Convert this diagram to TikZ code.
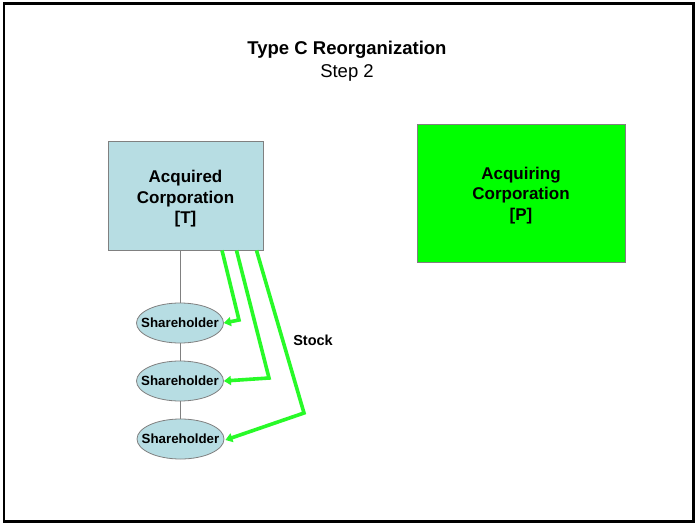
\documentclass[tikz,border=0pt]{standalone}
\usepackage{fontspec}
\setmainfont{Liberation Sans}
\usetikzlibrary{shapes.geometric,arrows.meta}
\definecolor{boxblue}{RGB}{183,221,227}
\definecolor{boxgreen}{RGB}{0,255,0}
\definecolor{arrowgreen}{RGB}{40,250,40}
\definecolor{edgegrey}{RGB}{128,128,128}
\tikzset{
  corpbox/.style={draw=edgegrey, line width=0.8pt, inner sep=0pt},
  corptext/.style={inner sep=0pt, align=center,
    font=\fontsize{17}{20.5}\selectfont\bfseries},
  holder/.style={ellipse, draw=edgegrey, line width=0.8pt, fill=boxblue,
    minimum width=87pt, minimum height=40pt, inner sep=0pt},
  holdertext/.style={inner sep=0pt, font=\fontsize{13.3}{15}\selectfont\bfseries},
  tie/.style={draw=edgegrey, line width=0.8pt},
  stockline/.style={draw=arrowgreen, line width=3.6pt,
    -{Triangle[length=7pt,width=9pt]}},
  lbl/.style={inner sep=0pt}
}
\begin{document}
\begin{tikzpicture}[x=1pt,y=-1pt]
\useasboundingbox (0,0) rectangle (696,525);
\fill[white] (0,0) rectangle (696,525);
\draw[black, line width=2.6pt] (4,3.5) rectangle (693.5,521.5);
% title
\node[lbl, anchor=base, font=\fontsize{18.5}{22}\selectfont\bfseries] (title) at (347,54) {Type C Reorganization};
\node[lbl, anchor=base, font=\fontsize{18.5}{22}\selectfont] (step) at (347,77) {Step 2};
% corporations
\node[corpbox, fill=boxblue, minimum width=155pt, minimum height=109pt] (T) at (185.5,195.5) {};
\node[corpbox, fill=boxgreen, minimum width=208pt, minimum height=138pt] (P) at (521,193) {};
\node[corptext] (Tt) at ([yshift=-3.5pt]T.center) {Acquired\\Corporation\\{[T]}};
\node[corptext] (Pt) at ([yshift=-2.5pt]P.center) {Acquiring\\Corporation\\{[P]}};
% shareholders
\node[holder] (s1) at (180,323) {};
\node[holder] (s2) at (180,381) {};
\node[holder] (s3) at (180.5,439) {};
\node[holdertext] (t1) at (s1) {Shareholder};
\node[holdertext] (t2) at (s2) {Shareholder};
\node[holdertext] (t3) at (s3) {Shareholder};
\draw[tie] (T.south -| s1.north) -- (s1.north);
\draw[tie] (s1.south) -- (s2.north);
\draw[tie] (s2.south) -- (s2.south |- s3.north);
% stock flows
\coordinate (c1) at (239,320);
\coordinate (c2) at (269,378);
\coordinate (c3) at (304,413);
\draw[stockline] ([xshift=36.5pt]T.south) -- (c1) -- (s1.east);
\draw[stockline] ([xshift=51pt]T.south) -- (c2) -- (s2.east);
\draw[stockline] ([xshift=71pt]T.south) -- (c3) -- ([xshift=1pt,yshift=-1pt]s3.east);
\node[lbl, font=\fontsize{14.5}{17}\selectfont\bfseries] (stock) at (313,340) {Stock};
\end{tikzpicture}
\end{document}
